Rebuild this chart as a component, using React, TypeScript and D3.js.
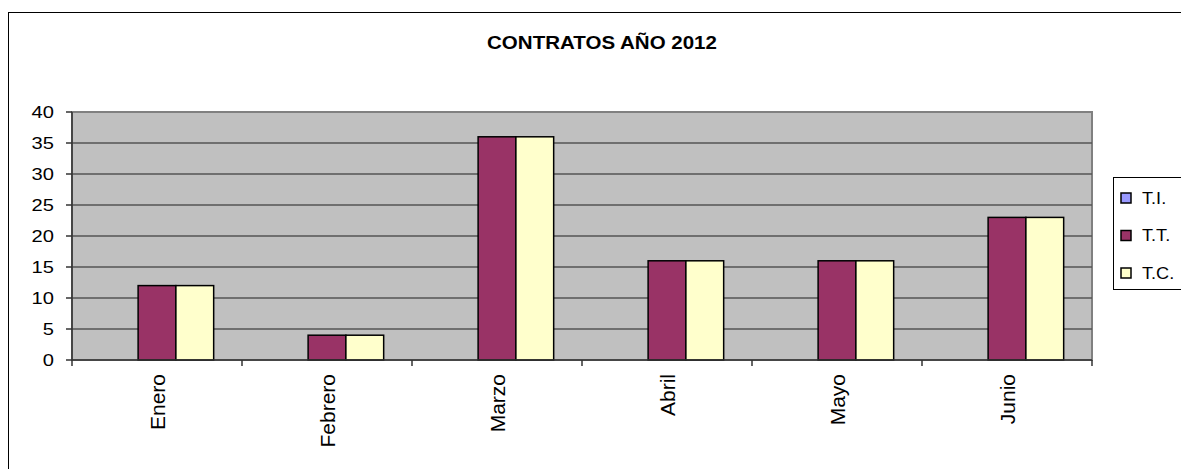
import * as d3 from "d3";

const categories = ["Enero", "Febrero", "Marzo", "Abril", "Mayo", "Junio"];
const seriesNames = ["T.I.", "T.T.", "T.C."];
const tiValues = [0, 0, 0, 0, 0, 0];
const ttValues = [12, 4, 36, 16, 16, 23];
const tcValues = [12, 4, 36, 16, 16, 23];
const seriesColors = ["#9999ff", "#993366", "#ffffcc"];
const yTicks = [0, 5, 10, 15, 20, 25, 30, 35, 40];

const W = 1181;
const H = 469;
const plot = { left: 72, right: 1092, top: 112, bottom: 360 };
const font = "'Liberation Sans', Arial, sans-serif";

export default function App() {
  const values = [tiValues, ttValues, tcValues];

  const x0 = d3.scaleBand<string>().domain(categories).range([plot.left, plot.right]);
  const groupW = (x0.bandwidth() * 3) / 4.5;
  const x1 = d3.scaleBand<string>().domain(seriesNames).range([0, groupW]);
  const y = d3.scaleLinear().domain([0, 40]).range([plot.bottom, plot.top]);

  return (
    <svg
      width={W}
      height={H}
      style={{ position: "absolute", left: 0, top: 0 }}
      fontFamily={font}
    >
      <rect x={0} y={0} width={W} height={H} fill="#fff" />
      {/* chart area border */}
      <rect x={8.5} y={12.5} width={W + 20} height={H + 20} fill="#fff" stroke="#000" strokeWidth={1} />

      <text
        transform="translate(602,49) scale(1.14,1)"
        textAnchor="middle"
        fontSize={18}
        fontWeight="bold"
        fill="#000"
      >
        CONTRATOS AÑO 2012
      </text>

      {/* plot area */}
      <rect
        x={plot.left}
        y={plot.top}
        width={plot.right - plot.left}
        height={plot.bottom - plot.top}
        fill="#c0c0c0"
        stroke="#808080"
        strokeWidth={2}
      />

      {/* gridlines */}
      {yTicks.slice(1, -1).map((t) => (
        <line
          key={"g" + t}
          x1={plot.left}
          x2={plot.right}
          y1={y(t)}
          y2={y(t)}
          stroke="#555"
          strokeWidth={1.5}
        />
      ))}

      {/* bars */}
      {categories.map((c, i) => {
        const gx = (x0(c) ?? 0) + (x0.bandwidth() - groupW) / 2;
        return (
          <g key={c}>
            {seriesNames.map((s, j) => {
              const v = values[j][i];
              if (!v) return null;
              return (
                <rect
                  key={s}
                  x={gx + (x1(s) ?? 0)}
                  y={y(v)}
                  width={x1.bandwidth()}
                  height={y(0) - y(v)}
                  fill={seriesColors[j]}
                  stroke="#000"
                  strokeWidth={1.5}
                />
              );
            })}
          </g>
        );
      })}

      {/* y axis */}
      <line x1={plot.left} x2={plot.left} y1={plot.top} y2={plot.bottom} stroke="#333" strokeWidth={1.5} />
      {yTicks.map((t) => (
        <g key={"y" + t}>
          <line x1={plot.left - 6} x2={plot.left} y1={y(t)} y2={y(t)} stroke="#333" strokeWidth={1.5} />
          <text
            transform={`translate(54,${y(t)}) scale(1.22,1)`}
            textAnchor="end"
            dominantBaseline="central"
            fontSize={16.5}
            fill="#000"
          >
            {t}
          </text>
        </g>
      ))}

      {/* x axis */}
      <line x1={plot.left} x2={plot.right} y1={plot.bottom} y2={plot.bottom} stroke="#333" strokeWidth={1.5} />
      {categories.map((c) => (
        <line
          key={"xt" + c}
          x1={x0(c)}
          x2={x0(c)}
          y1={plot.bottom}
          y2={plot.bottom + 6}
          stroke="#333"
          strokeWidth={1.5}
        />
      ))}
      <line x1={plot.right} x2={plot.right} y1={plot.bottom} y2={plot.bottom + 6} stroke="#333" strokeWidth={1.5} />
      {categories.map((c) => {
        const cx = (x0(c) ?? 0) + x0.bandwidth() / 2;
        return (
          <text
            key={"xl" + c}
            transform={`translate(${cx},${plot.bottom + 14}) rotate(-90)`}
            textAnchor="end"
            dominantBaseline="central"
            fontSize={21}
            fill="#000"
          >
            {c}
          </text>
        );
      })}

      {/* legend */}
      <rect x={1113.5} y={177.5} width={100} height={112} fill="#fff" stroke="#000" strokeWidth={1} />
      {seriesNames.map((s, j) => (
        <g key={"l" + s} transform={`translate(1121,${198 + j * 37.5})`}>
          <rect x={0} y={-5} width={10} height={10} fill={seriesColors[j]} stroke="#000" strokeWidth={1.5} />
          <text
            transform="translate(21,0) scale(1.1,1)"
            dominantBaseline="central"
            fontSize={16.5}
            fill="#000"
          >
            {s}
          </text>
        </g>
      ))}
    </svg>
  );
}
